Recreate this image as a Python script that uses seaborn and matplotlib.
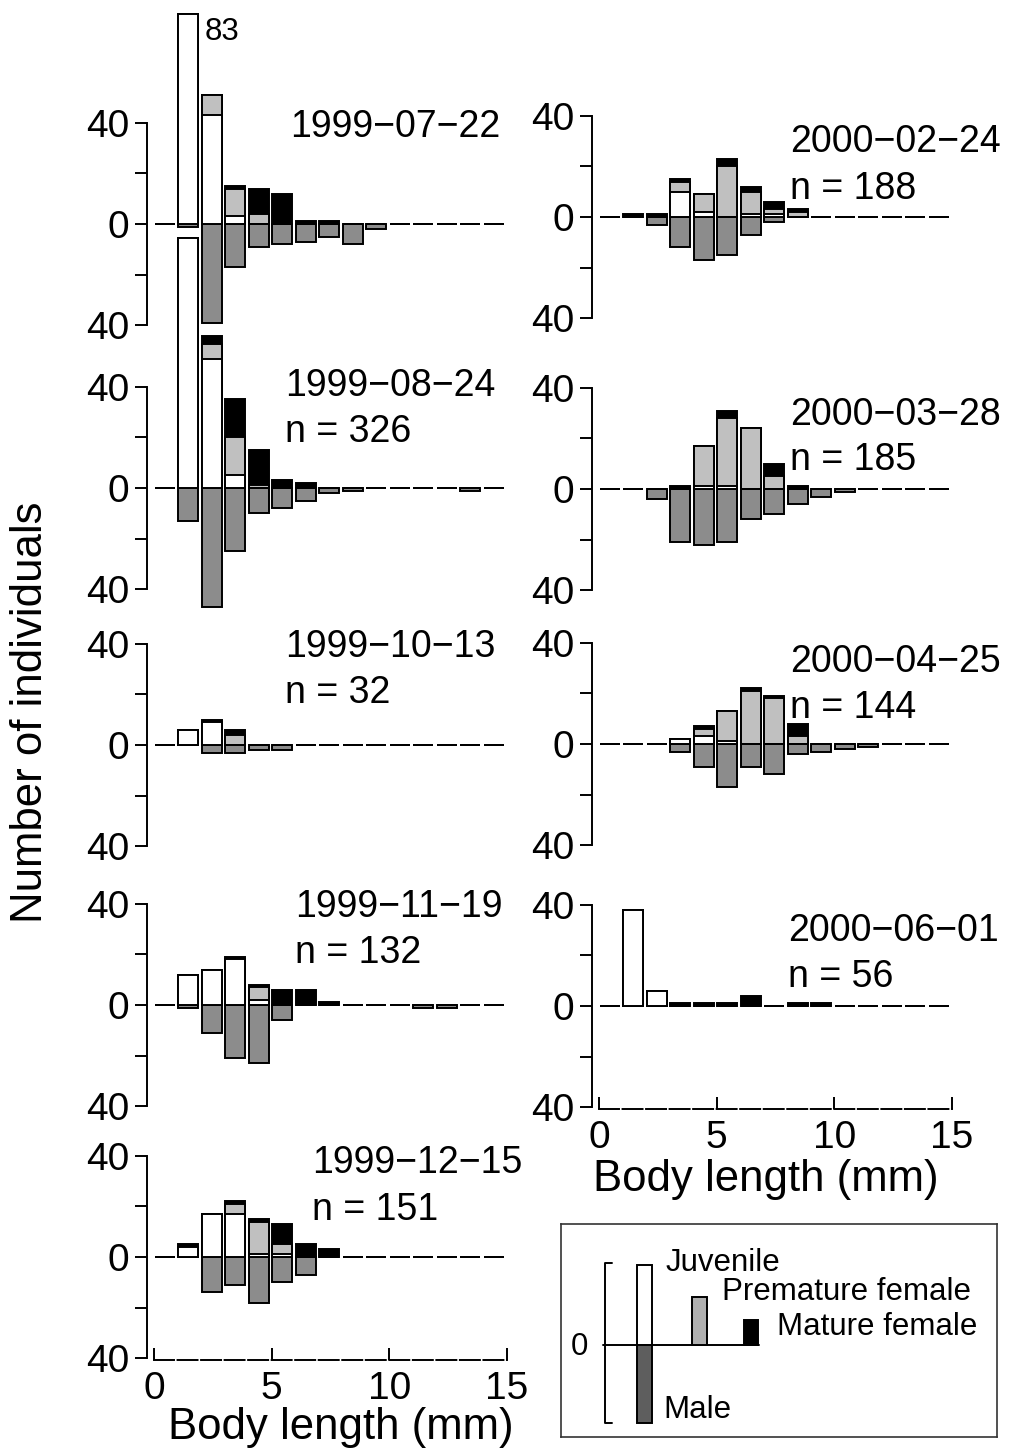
import numpy as np
import pandas as pd
import matplotlib
matplotlib.use("Agg")
import matplotlib.pyplot as plt
import seaborn as sns

# ---------------- data (counts per 1-mm body-length class) ----------------
length_bins = [0, 1, 2, 3, 4, 5, 6, 7, 8, 9, 10, 11, 12, 13, 14]

juv_1999_07_22 = [0, 83, 43, 3, 0, 0, 0, 0, 0, 0, 0, 0, 0, 0, 0]
pre_1999_07_22 = [0, 0, 8, 11, 4, 0, 0, 0, 0, 0, 0, 0, 0, 0, 0]
mat_1999_07_22 = [0, 0, 0, 1, 10, 12, 1, 1, 0, 0, 0, 0, 0, 0, 0]
mal_1999_07_22 = [0, 1, 39, 17, 9, 8, 7, 5, 8, 2, 0, 0, 0, 0, 0]

juv_1999_08_24 = [0, 99, 51, 5, 0, 0, 0, 0, 0, 0, 0, 0, 0, 0, 0]
pre_1999_08_24 = [0, 0, 6, 15, 1, 0, 0, 0, 0, 0, 0, 0, 0, 0, 0]
mat_1999_08_24 = [0, 0, 3, 15, 14, 3, 2, 0, 0, 0, 0, 0, 0, 0, 0]
mal_1999_08_24 = [0, 13, 47, 25, 10, 8, 5, 2, 1, 0, 0, 0, 0, 1, 0]

juv_1999_10_13 = [0, 6, 9, 0, 0, 0, 0, 0, 0, 0, 0, 0, 0, 0, 0]
pre_1999_10_13 = [0, 0, 0, 4, 0, 0, 0, 0, 0, 0, 0, 0, 0, 0, 0]
mat_1999_10_13 = [0, 0, 1, 2, 0, 0, 0, 0, 0, 0, 0, 0, 0, 0, 0]
mal_1999_10_13 = [0, 0, 3, 3, 2, 2, 0, 0, 0, 0, 0, 0, 0, 0, 0]

juv_1999_11_19 = [0, 12, 14, 18, 2, 0, 0, 0, 0, 0, 0, 0, 0, 0, 0]
pre_1999_11_19 = [0, 0, 0, 0, 5, 0, 0, 0, 0, 0, 0, 0, 0, 0, 0]
mat_1999_11_19 = [0, 0, 0, 1, 1, 6, 6, 1, 0, 0, 0, 0, 0, 0, 0]
mal_1999_11_19 = [0, 1, 11, 21, 23, 6, 0, 0, 0, 0, 0, 1, 1, 0, 0]

juv_1999_12_15 = [0, 4, 17, 17, 1, 1, 0, 0, 0, 0, 0, 0, 0, 0, 0]
pre_1999_12_15 = [0, 0, 0, 4, 13, 4, 0, 0, 0, 0, 0, 0, 0, 0, 0]
mat_1999_12_15 = [0, 1, 0, 1, 1, 8, 5, 3, 0, 0, 0, 0, 0, 0, 0]
mal_1999_12_15 = [0, 0, 14, 11, 18, 10, 7, 0, 0, 0, 0, 0, 0, 0, 0]

juv_2000_02_24 = [0, 0, 0, 10, 2, 0, 1, 1, 0, 0, 0, 0, 0, 0, 0]
pre_2000_02_24 = [0, 0, 0, 4, 7, 20, 9, 2, 2, 0, 0, 0, 0, 0, 0]
mat_2000_02_24 = [0, 1, 1, 1, 0, 3, 2, 3, 1, 0, 0, 0, 0, 0, 0]
mal_2000_02_24 = [0, 0, 3, 12, 17, 15, 7, 2, 0, 0, 0, 0, 0, 0, 0]

juv_2000_03_28 = [0, 0, 0, 0, 1, 1, 0, 0, 0, 0, 0, 0, 0, 0, 0]
pre_2000_03_28 = [0, 0, 0, 0, 16, 27, 24, 5, 0, 0, 0, 0, 0, 0, 0]
mat_2000_03_28 = [0, 0, 0, 1, 0, 3, 0, 5, 1, 0, 0, 0, 0, 0, 0]
mal_2000_03_28 = [0, 0, 4, 21, 22, 21, 12, 10, 6, 3, 1, 0, 0, 0, 0]

juv_2000_04_25 = [0, 0, 0, 2, 3, 1, 0, 0, 0, 0, 0, 0, 0, 0, 0]
pre_2000_04_25 = [0, 0, 0, 0, 3, 12, 21, 18, 3, 0, 0, 0, 0, 0, 0]
mat_2000_04_25 = [0, 0, 0, 0, 1, 0, 1, 1, 5, 0, 0, 0, 0, 0, 0]
mal_2000_04_25 = [0, 0, 0, 3, 9, 17, 9, 12, 4, 3, 2, 1, 0, 0, 0]

juv_2000_06_01 = [0, 38, 6, 0, 0, 0, 0, 0, 0, 0, 0, 0, 0, 0, 0]
pre_2000_06_01 = [0, 0, 0, 0, 0, 0, 0, 0, 0, 0, 0, 0, 0, 0, 0]
mat_2000_06_01 = [0, 0, 0, 1, 1, 1, 4, 0, 1, 1, 0, 0, 0, 0, 0]
mal_2000_06_01 = [0, 0, 0, 0, 0, 0, 0, 0, 0, 0, 0, 0, 0, 0, 0]

sample_dates = ["1999-07-22", "1999-08-24", "1999-10-13", "1999-11-19", "1999-12-15",
                "2000-02-24", "2000-03-28", "2000-04-25", "2000-06-01"]
sample_n = [None, 326, 32, 132, 151, 188, 185, 144, 56]
juveniles = [juv_1999_07_22, juv_1999_08_24, juv_1999_10_13, juv_1999_11_19, juv_1999_12_15,
             juv_2000_02_24, juv_2000_03_28, juv_2000_04_25, juv_2000_06_01]
prematures = [pre_1999_07_22, pre_1999_08_24, pre_1999_10_13, pre_1999_11_19, pre_1999_12_15,
              pre_2000_02_24, pre_2000_03_28, pre_2000_04_25, pre_2000_06_01]
matures = [mat_1999_07_22, mat_1999_08_24, mat_1999_10_13, mat_1999_11_19, mat_1999_12_15,
           mat_2000_02_24, mat_2000_03_28, mat_2000_04_25, mat_2000_06_01]
males = [mal_1999_07_22, mal_1999_08_24, mal_1999_10_13, mal_1999_11_19, mal_1999_12_15,
         mal_2000_02_24, mal_2000_03_28, mal_2000_04_25, mal_2000_06_01]
clipped_label = "83"

# ---------------- style ----------------
sns.set_style("ticks", rc={"axes.edgecolor": "black", "xtick.color": "black",
                           "ytick.color": "black", "text.color": "black",
                           "axes.labelcolor": "black"})
plt.rcParams["font.family"] = ["Liberation Sans", "DejaVu Sans"]
plt.rcParams["lines.scale_dashes"] = False

MALE_C = "#8c8c8c"
PREM_C = "#c0c0c0"
LW = 1.4
TICK_FS = 28
TEXT_FS = 27

W_PX, H_PX = 1010, 1454
MM_PX = 23.53     # pixels per mm
CNT_PX = 2.53     # pixels per individual

fig = plt.figure(figsize=(W_PX / 100, H_PX / 100), dpi=100)

# (x pixel of length 0, y pixel of count 0, is bottom panel, text x(mm), date y, n y)
layout = [
    (154, 224, False, 5.78, 34.4, None),
    (154, 488, False, 5.57, 36.4, 18.2),
    (154, 745, False, 5.57, 34.8, 16.6),
    (154, 1005, False, 5.99, 34.8, 16.6),
    (154, 1257, True, 6.71, 33.2, 14.6),
    (599, 217, False, 8.12, 25.7, 7.3),
    (599, 489, False, 8.12, 25.3, 7.5),
    (599, 744, False, 8.12, 28.5, 10.3),
    (599, 1006, True, 8.03, 25.7, 7.5),
]


def make_ax(x0, z0):
    left = x0 - 0.5 * MM_PX
    width = 16 * MM_PX
    bottom = z0 + 40 * CNT_PX
    height = 80 * CNT_PX
    ax = fig.add_axes([left / W_PX, 1 - bottom / H_PX, width / W_PX, height / H_PX])
    ax.patch.set_visible(False)
    return ax


for i, (x0, z0, is_bottom, tx, dy, ny) in enumerate(layout):
    ax = make_ax(x0, z0)
    df = pd.DataFrame({"length": length_bins, "juvenile": juveniles[i],
                       "premature": prematures[i], "mature": matures[i],
                       "male": males[i]})
    df["pos"] = df["length"] + 0.45
    df["top_all"] = df["juvenile"] + df["premature"] + df["mature"]
    df["top_prem"] = df["juvenile"] + df["premature"]
    df["male_neg"] = -df["male"]
    for col, colr in [("male_neg", MALE_C), ("top_all", "black"),
                      ("top_prem", PREM_C), ("juvenile", "white")]:
        sns.barplot(data=df, x="pos", y=col, native_scale=True, orient="x",
                    width=0.85, color=colr, saturation=1, edgecolor="black",
                    linewidth=LW, errorbar=None, ax=ax, clip_on=False, zorder=3)
    ax.set_xlim(-0.5, 15.5)
    ax.set_ylim(-40, 40)
    ax.set(xlabel="", ylabel="")
    ax.spines["top"].set_visible(False)
    ax.spines["right"].set_visible(False)
    ax.spines["left"].set_position(("data", -0.28))
    ax.spines["left"].set_bounds(-40, 40)
    ax.spines["left"].set_linewidth(LW)
    ax.set_yticks([-40, -20, 0, 20, 40])
    ax.set_yticklabels(["40", "", "0", "", "40"])
    ax.tick_params(axis="y", direction="out", length=9, width=LW, pad=4, labelsize=TICK_FS)
    if is_bottom:
        sp = ax.spines["bottom"]
        sp.set_position(("data", -40.7))
        sp.set_bounds(0, 15)
        sp.set_linewidth(LW)
        sp.set_linestyle((0, (0.85 * MM_PX * 0.72, 0.15 * MM_PX * 0.72)))
        ax.set_xticks([0, 5, 10, 15])
        ax.set_xticklabels(["0", "5", "10", "15"])
        ax.tick_params(axis="x", direction="in", length=9, width=LW, pad=8, labelsize=TICK_FS)
    else:
        ax.spines["bottom"].set_visible(False)
        ax.set_xticks([])
    ax.text(tx, dy, sample_dates[i].replace("-", "\u2212"), fontsize=TEXT_FS,
            ha="left", va="baseline")
    if sample_n[i] is not None:
        ax.text(tx, ny, f"n = {sample_n[i]}", fontsize=TEXT_FS, ha="left", va="baseline")
    if i == 0:
        ax.text(2.17, 72.7, clipped_label, fontsize=22.5, ha="left", va="baseline")

# axis titles
fig.text(31 / W_PX, 1 - 712 / H_PX, "Number of individuals", rotation=90,
         fontsize=31.5, ha="center", va="center")
fig.text(341 / W_PX, 1 - 1427 / H_PX, "Body length (mm)", fontsize=31.5,
         ha="center", va="center")
fig.text(766 / W_PX, 1 - 1179 / H_PX, "Body length (mm)", fontsize=31.5,
         ha="center", va="center")

# ---------------- legend box ----------------
lax = fig.add_axes([561 / W_PX, 1 - 1437 / H_PX, 436 / W_PX, 213 / H_PX])
lax.set_xlim(0, 436)
lax.set_ylim(-92, 121)
lax.set_xticks([])
lax.set_yticks([])
for s in lax.spines.values():
    s.set_visible(True)
    s.set_linewidth(1.2)
    s.set_edgecolor("#333333")
lax.plot([42, 198], [0, 0], color="black", lw=LW, zorder=1)
lax.plot([51, 44, 44, 51], [82, 82, -78, -78], color="black", lw=LW)
lax.bar([83], [80], width=15, color="white", edgecolor="black", linewidth=LW, zorder=2)
lax.bar([83], [-78], width=15, color="#5e5e5e", edgecolor="black", linewidth=LW, zorder=2)
lax.bar([138], [48], width=15, color="#b0b0b0", edgecolor="black", linewidth=LW, zorder=2)
lax.bar([190], [25], width=14, color="black", edgecolor="black", linewidth=LW, zorder=2)
lax.text(18, -10, "0", fontsize=22.5, ha="center", va="baseline")
lax.text(105, 74, "Juvenile", fontsize=22.5, ha="left", va="baseline")
lax.text(161, 45, "Premature female", fontsize=22.5, ha="left", va="baseline")
lax.text(216, 10, "Mature female", fontsize=22.5, ha="left", va="baseline")
lax.text(102, -73, "Male", fontsize=22.5, ha="left", va="baseline")

fig.savefig("out.png", dpi=100)
